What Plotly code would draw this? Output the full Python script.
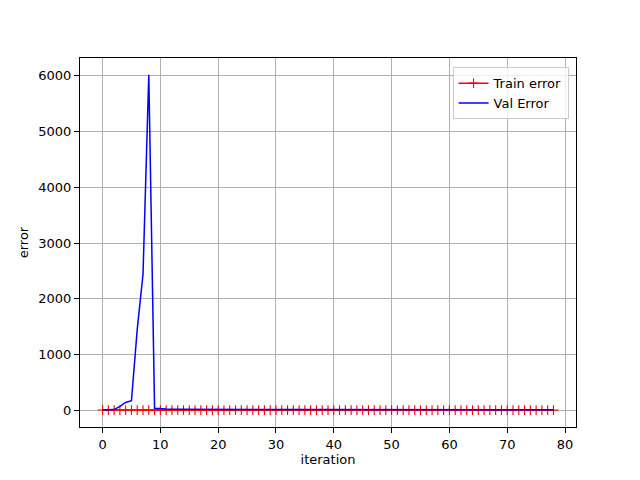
import plotly.graph_objects as go

iterations = list(range(79))
train_error = [4.1, 3.6, 3.3, 3.0, 2.9, 2.8, 2.7, 2.6, 2.6, 2.5,
               2.4, 2.4, 2.3, 2.3, 2.2, 2.2, 2.1, 2.1, 2.1, 2.0,
               2.0, 2.0, 1.9, 1.9, 1.9, 1.9, 1.8, 1.8, 1.8, 1.8,
               1.7, 1.7, 1.7, 1.7, 1.7, 1.6, 1.6, 1.6, 1.6, 1.6,
               1.6, 1.5, 1.5, 1.5, 1.5, 1.5, 1.5, 1.5, 1.4, 1.4,
               1.4, 1.4, 1.4, 1.4, 1.4, 1.4, 1.3, 1.3, 1.3, 1.3,
               1.3, 1.3, 1.3, 1.3, 1.3, 1.2, 1.2, 1.2, 1.2, 1.2,
               1.2, 1.2, 1.2, 1.2, 1.2, 1.2, 1.1, 1.1, 1.1]
val_error = [6, 5, 12, 70, 140, 170, 1450, 2440, 6020, 35,
             22, 20, 19, 18, 18, 17, 17, 16, 16, 16,
             15, 15, 15, 15, 14, 14, 14, 14, 14, 13,
             13, 13, 13, 13, 13, 13, 12, 12, 12, 12,
             12, 12, 12, 12, 12, 11, 11, 11, 11, 11,
             11, 11, 11, 11, 11, 11, 11, 10, 10, 10,
             10, 10, 10, 10, 10, 10, 10, 10, 10, 10,
             10, 10, 10, 10, 10, 10, 10, 10, 10]

fig = go.Figure()
fig.add_trace(go.Scatter(
    x=iterations, y=train_error, mode="lines+markers", name="Train error",
    line=dict(color="red", width=1.5),
    marker=dict(symbol="cross-thin", size=7, line=dict(color="red", width=1.1), color="red"),
))
fig.add_trace(go.Scatter(
    x=iterations, y=val_error, mode="lines", name="Val Error",
    line=dict(color="blue", width=1.5),
))

axis_common = dict(
    showgrid=True, gridcolor="#b0b0b0", gridwidth=0.8,
    showline=True, linecolor="black", linewidth=1, mirror=True,
    ticks="outside", ticklen=5, tickcolor="black", tickwidth=1,
    zeroline=False, tickfont=dict(family="DejaVu Sans", size=13, color="black"),
)

fig.update_layout(
    width=632, height=472,
    margin=dict(l=72, r=64, t=50, b=53),
    paper_bgcolor="white", plot_bgcolor="white",
    font=dict(family="DejaVu Sans", size=13, color="black"),
    showlegend=True,
    legend=dict(x=0.985, y=0.975, xanchor="right", yanchor="top",
                bgcolor="rgba(255,255,255,0.8)", bordercolor="#cccccc", borderwidth=1,
                font=dict(family="DejaVu Sans", size=13)),
)
fig.update_xaxes(range=[-3.9, 81.9], tickmode="array", tickvals=[0, 10, 20, 30, 40, 50, 60, 70, 80],
                 title=dict(text="iteration", font=dict(size=13), standoff=4), **axis_common)
fig.update_yaxes(range=[-301, 6321], tickmode="array", tickvals=[0, 1000, 2000, 3000, 4000, 5000, 6000],
                 title=dict(text="error", font=dict(size=13), standoff=6), **axis_common)

fig.write_html("out.html")
